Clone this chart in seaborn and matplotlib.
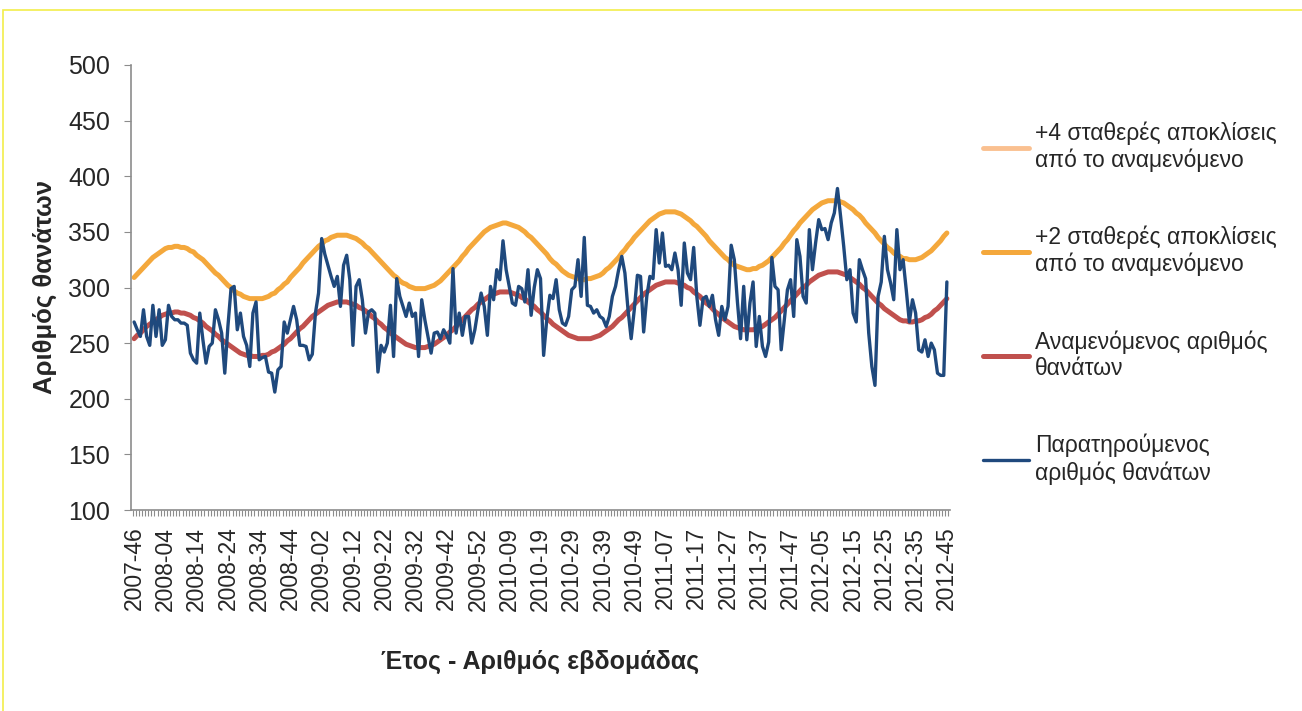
import matplotlib
matplotlib.use("Agg")
import matplotlib.pyplot as plt
from matplotlib.patches import Rectangle
from matplotlib.ticker import MultipleLocator
import numpy as np
import pandas as pd
import seaborn as sns

# weekly data, 2007-46 .. 2012-45 (261 weeks)
observed = [
    269, 262, 256, 280, 256, 248, 284, 256, 280, 248,
    253, 284, 274, 271, 271, 268, 268, 266, 241, 235,
    232, 277, 253, 232, 247, 250, 280, 271, 259, 223,
    265, 299, 301, 262, 277, 256, 248, 229, 277, 287,
    235, 237, 238, 224, 223, 206, 226, 229, 269, 259,
    271, 283, 271, 248, 248, 247, 235, 240, 277, 295,
    344, 330,
    320, 310, 301, 310, 283, 320, 329, 307, 248, 301,
    307, 289, 259, 278, 280, 277, 224, 248, 242, 250,
    284, 238, 308, 292, 283, 274, 286, 274, 277, 238,
    289, 271, 256, 241, 259, 260, 254, 262, 257, 250,
    317, 259, 277, 257, 274, 274, 250, 262, 280, 295,
    283, 257, 301, 289, 316, 307, 342, 316, 301, 286,
    284, 301, 299, 287, 316, 275, 300, 316,
    308, 239, 271, 293, 290, 307, 280, 268, 266, 274,
    298, 301, 325, 292, 345, 284, 283, 277, 280, 274,
    272, 265, 274, 292, 301, 316, 328, 313, 280, 254,
    280, 311, 310, 260, 292, 310, 308, 352, 322, 349,
    319, 320, 316, 331, 316, 284, 340, 313, 307, 336,
    292, 266, 290, 292, 283, 293, 271, 257, 283, 271,
    283, 338, 325, 287, 254,
    301, 253, 286, 305, 247, 274, 247, 238, 251, 327,
    301, 298, 244, 271, 298, 307, 274, 343, 328, 292,
    286, 352, 316, 340, 361, 352, 353, 343, 358, 367,
    389, 364, 337, 307, 316, 277, 269, 325, 316, 308,
    259, 229, 212, 292, 305, 346, 316, 304, 289, 352,
    316, 325, 298, 269, 289, 277, 244, 242, 253, 238,
    250, 244, 223, 221, 221, 305,
]

expected = [
    254, 257, 259, 262, 265, 267, 269, 271, 273, 275,
    276, 277, 277, 278, 278, 277, 277, 276, 275, 273,
    272, 270, 268, 265, 263, 261, 258, 256, 253, 251,
    249, 247, 245, 243, 241, 240, 239, 239, 238, 238,
    238, 239, 239, 240, 242, 243, 245, 247, 249, 252,
    254, 257, 260, 263, 265, 268, 271, 274, 276, 278,
    280, 282, 284, 285, 286, 287, 287, 287, 287, 286,
    285, 284, 282, 281, 279, 277, 274, 272, 269, 267,
    264, 262, 259, 257, 255, 253, 251, 249, 248, 247,
    246, 246, 246, 246, 247, 248, 249, 251, 253, 255,
    257, 260, 262, 265, 268, 271, 274, 277, 280, 282,
    285, 287, 289, 291, 293, 294, 295, 296, 296, 296,
    296, 295, 294, 293, 291, 290, 287, 285, 283, 280,
    278, 275, 272, 270, 267, 265, 263, 261, 259, 257,
    256, 255, 254, 254, 254, 254, 254, 255, 256, 257,
    259, 261, 263, 265, 268, 271, 273, 276, 279, 282,
    285, 288, 291, 294, 296, 298, 300, 302, 303, 304,
    305, 305, 305, 305, 304, 303, 302, 300, 299, 296,
    294, 292, 289, 286, 284, 281, 278, 276, 273, 271,
    269, 267, 265, 264, 263, 262, 262, 262, 262, 263,
    264, 265, 267, 269, 271, 273, 276, 279, 282, 285,
    288, 291, 294, 297, 300, 302, 305, 307, 309, 311,
    312, 313, 314, 314, 314, 314, 313, 312, 311, 309,
    307, 305, 303, 300, 298, 295, 292, 289, 286, 284,
    281, 279, 277, 275, 273, 271, 270, 270, 269, 269,
    270, 270, 271, 273, 274, 276, 279, 281, 284, 287, 290,
]

plus2 = [
    309, 312, 315, 318, 321, 324, 327, 329, 331, 333,
    335, 336, 336, 337, 337, 336, 336, 335, 333, 332,
    329, 327, 325, 322, 319, 316, 313, 311, 308, 305,
    302, 300, 297, 295, 294, 292, 291, 290, 290, 290,
    290, 290, 291, 292, 294, 295, 298, 300, 303, 305,
    309, 312, 315, 318, 322, 325, 328, 331, 334, 337,
    339, 342, 343, 345, 346, 347, 347, 347, 347, 346,
    345, 344, 342, 340, 337, 335, 332, 329, 326, 323,
    320, 317, 314, 311, 309, 306, 304, 303, 301, 300,
    299, 299, 299, 299, 300, 301, 302, 304, 306, 309,
    312, 315, 318, 321, 324, 328, 331, 335, 338, 341,
    344, 347, 350, 352, 354, 355, 356, 357, 358, 358,
    357, 356, 355, 354, 352, 350, 347, 345, 342, 339,
    336, 333, 330, 326, 323, 321, 318, 315, 313, 311,
    310, 309, 308, 307, 307, 308, 308, 309, 310, 311,
    313, 316, 318, 321, 324, 327, 331, 334, 338, 341,
    345, 348, 351, 354, 357, 360, 362, 364, 366, 367,
    368, 368, 368, 368, 367, 366, 364, 362, 360, 357,
    355, 352, 349, 346, 342, 339, 336, 333, 330, 327,
    325, 322, 320, 319, 318, 317, 316, 316, 317, 317,
    319, 320, 322, 324, 327, 330, 333, 336, 340, 343,
    347, 351, 354, 358, 361, 364, 367, 370, 372, 374,
    376, 377, 378, 378, 378, 378, 377, 376, 374, 372,
    370, 367, 365, 362, 358, 355, 352, 349, 345, 342,
    339, 336, 334, 331, 329, 328, 326, 326, 325, 325,
    325, 326, 327, 329, 331, 333, 336, 339, 342, 346, 349,
]

# +4 SD series is not visible inside the plotted range
plus4 = []

tick_labels = [
    "2007-46", "2008-04", "2008-14", "2008-24", "2008-34", "2008-44",
    "2009-02", "2009-12", "2009-22", "2009-32", "2009-42", "2009-52",
    "2010-09", "2010-19", "2010-29", "2010-39", "2010-49", "2011-07",
    "2011-17", "2011-27", "2011-37", "2011-47", "2012-05", "2012-15",
    "2012-25", "2012-35", "2012-45",
]

labels = [
    "+4 σταθερές αποκλίσεις\nαπό το αναμενόμενο",
    "+2 σταθερές αποκλίσεις\nαπό το αναμενόμενο",
    "Αναμενόμενος αριθμός\nθανάτων",
    "Παρατηρούμενος\nαριθμός θανάτων",
]
colors = ["#FAC090", "#F4A83C", "#C0504D", "#1F497D"]

week = np.arange(len(observed))
df = pd.DataFrame({"week": week, "plus2": plus2,
                   "expected": expected, "observed": observed})

sns.set_theme(style="white")
plt.rcParams["font.family"] = ["Liberation Sans", "DejaVu Sans"]

fig = plt.figure(figsize=(13.02, 7.11), dpi=100)
ax = fig.add_axes([131 / 1302, 1 - 510 / 711, 819 / 1302, 445 / 711])

ax.plot(plus4, plus4, color=colors[0], lw=3.5, label=labels[0])
sns.lineplot(data=df, x="week", y="plus2", ax=ax, color=colors[1], lw=3.6, label=labels[1])
sns.lineplot(data=df, x="week", y="expected", ax=ax, color=colors[2], lw=3.6, label=labels[2])
sns.lineplot(data=df, x="week", y="observed", ax=ax, color=colors[3], lw=2.4, label=labels[3])

ax.set_xlim(-1, 261)
ax.set_ylim(100, 500)
ax.yaxis.set_major_locator(MultipleLocator(50))
ax.set_xticks(week[::10])
ax.set_xticklabels(tick_labels, rotation=90, fontsize=16.5)
ax.xaxis.set_minor_locator(MultipleLocator(1, offset=0.5))
ax.tick_params(axis="x", which="major", length=0, pad=12)
ax.tick_params(axis="x", which="minor", bottom=True, length=4, width=0.8, color="#8C8C8C")
ax.tick_params(axis="y", which="major", left=True, length=5, width=0.8, color="#8C8C8C",
               labelsize=18, pad=10)

for s in ["top", "right"]:
    ax.spines[s].set_visible(False)
for s in ["left", "bottom"]:
    ax.spines[s].set_color("#8C8C8C")
    ax.spines[s].set_linewidth(1.2)

ax.set_xlabel("Έτος - Αριθμός εβδομάδας", fontsize=18, fontweight="bold", labelpad=28)
ax.set_ylabel("Αριθμός θανάτων", fontsize=18.5, fontweight="bold", labelpad=8)

ax.get_legend().remove()
handles, labs = ax.get_legend_handles_labels()
leg = fig.legend(handles, labs, loc="upper left", bbox_to_anchor=(972 / 1302, 1 - 110 / 711),
                 frameon=False, fontsize=16.5, handlelength=2.0, handletextpad=0.25,
                 labelspacing=2.34, borderpad=0)

fig.patches.append(Rectangle((3 / 1302, -0.01), 1.0, 1 - 9.5 / 711 + 0.01,
                             transform=fig.transFigure, fill=False,
                             edgecolor="#F2EE4A", lw=1.2))

fig.savefig("out.png", dpi=100)
